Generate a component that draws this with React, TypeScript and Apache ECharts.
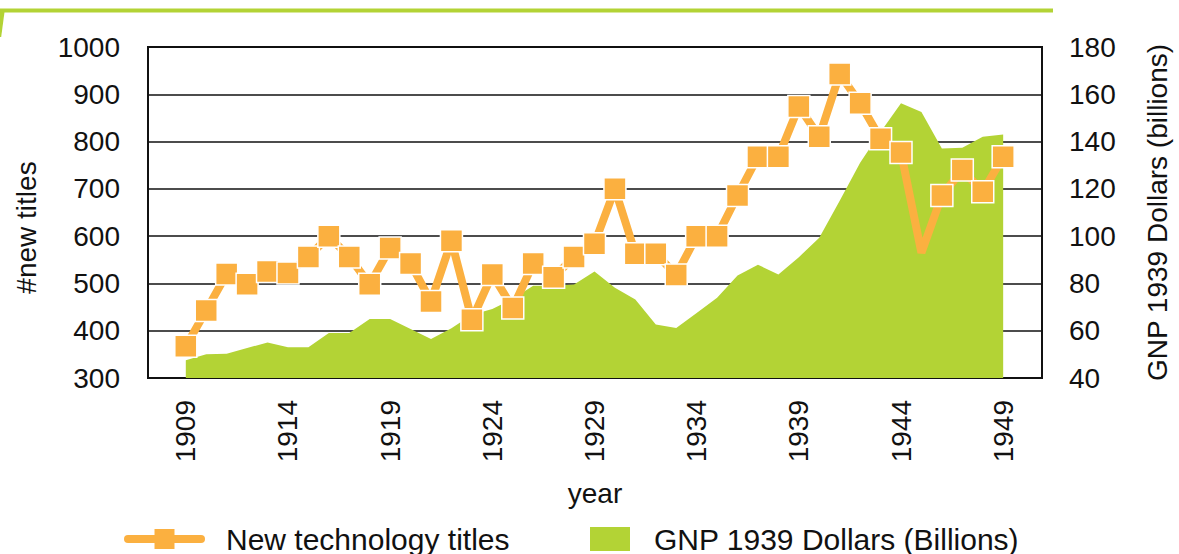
import React, { useEffect, useRef } from "react";
import * as echarts from "echarts";

const years: number[] = [
  1909, 1910, 1911, 1912, 1913, 1914, 1915, 1916, 1917, 1918, 1919, 1920, 1921, 1922,
  1923, 1924, 1925, 1926, 1927, 1928, 1929, 1930, 1931, 1932, 1933, 1934, 1935, 1936,
  1937, 1938, 1939, 1940, 1941, 1942, 1943, 1944, 1945, 1946, 1947, 1948, 1949,
];

const newTitles: number[] = [
  367, 443, 520, 498, 525, 522, 556, 600, 556, 498, 575, 542, 462, 590,
  423, 519, 448, 542, 513, 556, 584, 700, 563, 563, 518, 600, 600, 686,
  768, 768, 874, 810, 943, 881, 806, 777, 565, 686, 740, 694, 768,
];

const gnp: number[] = [
  47.5, 50, 50.3, 52.7, 55, 53, 53, 59, 59, 65, 65, 60.7, 56.5, 61,
  66.8, 69.2, 73.5, 79, 79, 79.5, 85, 78.2, 73.2, 62.6, 61.1, 67.5, 73.9, 83.4,
  87.9, 83.8, 91.1, 99.3, 115, 131, 144, 156.2, 152.5, 137.1, 137.4, 142, 143,
];

const yearTicks: number[] = [1909, 1914, 1919, 1924, 1929, 1934, 1939, 1944, 1949];
const noMarkerYears: number[] = [1945];

const TITLES_NAME = "New technology titles";
const GNP_NAME = "GNP 1939 Dollars (Billions)";

const ORANGE = "#FBB040";
const GREEN = "#B3D335";
const INK = "#111111";
const FONT = "'Liberation Sans', Arial, Helvetica, sans-serif";

export default function App() {
  const ref = useRef<HTMLDivElement>(null);

  useEffect(() => {
    if (!ref.current) return;
    const chart = echarts.init(ref.current, undefined, { renderer: "svg" });

    const lineData = years.map((y, i) =>
      noMarkerYears.includes(y)
        ? { value: [y, newTitles[i]], symbol: "none" }
        : { value: [y, newTitles[i]] }
    );
    const areaData = years.map((y, i) => [y, gnp[i]]);

    const txt = { fontFamily: FONT, fontSize: 28, color: INK };
    const legendTxt = { fontFamily: FONT, fontSize: 30, color: INK };

    chart.setOption({
      animation: false,
      backgroundColor: "#ffffff",
      textStyle: { fontFamily: FONT },
      grid: {
        left: 148,
        right: 130,
        top: 47,
        bottom: 176,
        show: true,
        borderColor: INK,
        borderWidth: 2,
        backgroundColor: "transparent",
      },
      xAxis: {
        type: "value",
        min: 1907.15,
        max: 1950.9,
        name: "year",
        nameLocation: "middle",
        nameGap: 101,
        nameTextStyle: { ...txt },
        axisLine: { show: true, lineStyle: { color: INK, width: 2 } },
        axisTick: { show: false },
        splitLine: { show: false },
        axisLabel: {
          customValues: yearTicks,
          rotate: 90,
          margin: 22,
          ...txt,
          formatter: (v: number) => String(v),
        },
      },
      yAxis: [
        {
          type: "value",
          min: 300,
          max: 1000,
          interval: 100,
          name: "#new titles",
          nameLocation: "middle",
          nameGap: 108,
          nameTextStyle: { ...txt, padding: [0, 30, 0, 0] },
          axisLine: { show: true, lineStyle: { color: INK, width: 2 } },
          axisTick: { show: false },
          axisLabel: { margin: 28, ...txt, formatter: (v: number) => String(v) },
          splitLine: { show: true, lineStyle: { color: INK, width: 1.5 } },
        },
        {
          type: "value",
          min: 40,
          max: 180,
          interval: 20,
          position: "right",
          name: "GNP 1939 Dollars (billions)",
          nameLocation: "middle",
          nameGap: 101,
          nameTextStyle: { ...txt },
          axisLine: { show: true, lineStyle: { color: INK, width: 2 } },
          axisTick: { show: false },
          axisLabel: { margin: 27, ...txt, formatter: (v: number) => String(v) },
          splitLine: { show: false },
        },
      ],
      legend: [
        {
          data: [TITLES_NAME],
          left: 124,
          top: 524,
          padding: 0,
          itemWidth: 73,
          itemHeight: 25,
          lineStyle: { width: 8, cap: "round", color: ORANGE },
          itemStyle: { borderWidth: 0, color: ORANGE },
          textStyle: { ...legendTxt, padding: [0, 0, 0, 20] },
        },
        {
          data: [GNP_NAME],
          left: 590,
          top: 524,
          padding: 0,
          itemWidth: 40,
          itemHeight: 24,
          icon: "rect",
          itemStyle: { borderWidth: 0, color: GREEN },
          textStyle: { ...legendTxt, padding: [0, 0, 0, 19] },
        },
      ],
      graphic: [
        {
          type: "rect",
          shape: { x: 0, y: 8.5, width: 1053, height: 4 },
          style: { fill: GREEN },
          silent: true,
        },
        {
          type: "polygon",
          shape: { points: [[0, 12], [4.5, 12], [1.2, 37], [0, 37]] },
          style: { fill: GREEN },
          silent: true,
        },
      ],
      series: [
        {
          name: GNP_NAME,
          type: "line",
          yAxisIndex: 1,
          data: areaData,
          showSymbol: false,
          symbol: "none",
          lineStyle: { width: 0, color: GREEN },
          itemStyle: { color: GREEN },
          areaStyle: { color: GREEN, opacity: 1, origin: "start" },
          z: 1,
        },
        {
          name: TITLES_NAME,
          type: "line",
          yAxisIndex: 0,
          data: lineData,
          symbol: "rect",
          symbolSize: 22,
          lineStyle: { width: 8, color: ORANGE },
          itemStyle: { color: ORANGE, borderColor: "#ffffff", borderWidth: 1.5 },
          z: 3,
        },
      ],
    });

    return () => chart.dispose();
  }, []);

  return (
    <div
      ref={ref}
      style={{ position: "fixed", left: 0, top: 0, width: 1179, height: 554 }}
    />
  );
}
